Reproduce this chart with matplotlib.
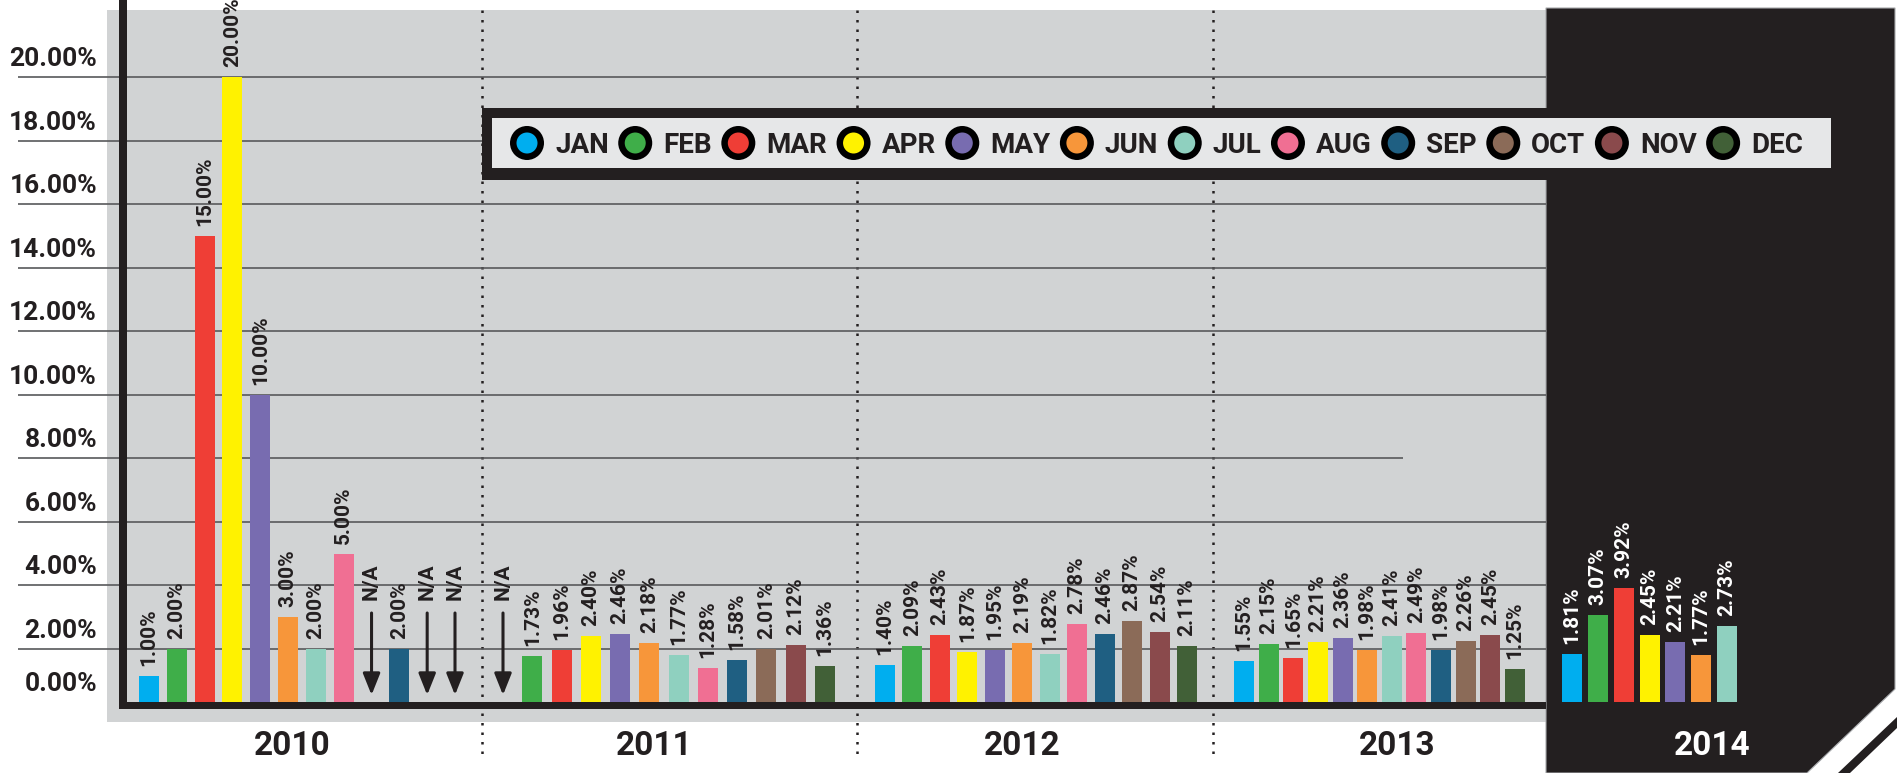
import numpy as np
import matplotlib.pyplot as plt
from matplotlib.patches import Rectangle, Polygon, Circle

plt.rcParams['font.family'] = ['Roboto', 'DejaVu Sans']

# ---- data ----
months = ['JAN', 'FEB', 'MAR', 'APR', 'MAY', 'JUN', 'JUL', 'AUG', 'SEP', 'OCT', 'NOV', 'DEC']
month_colors = ['#00aeef', '#3fae49', '#ef3e36', '#fff200', '#786cb0', '#f7963a',
                '#8fd0bf', '#f06f93', '#1f5f82', '#8b6b58', '#8a4a4c', '#416037']

years = ['2010', '2011', '2012', '2013', '2014']
v2010 = [1.00, 2.00, 15.00, 20.00, 10.00, 3.00, 2.00, 5.00, None, 2.00, None, None]
v2011 = [None, 1.73, 1.96, 2.40, 2.46, 2.18, 1.77, 1.28, 1.58, 2.01, 2.12, 1.36]
v2012 = [1.40, 2.09, 2.43, 1.87, 1.95, 2.19, 1.82, 2.78, 2.46, 2.87, 2.54, 2.11]
v2013 = [1.55, 2.15, 1.65, 2.21, 2.36, 1.98, 2.41, 2.49, 1.98, 2.26, 2.45, 1.25]
v2014 = [1.81, 3.07, 3.92, 2.45, 2.21, 1.77, 2.73]
values = [v2010, v2011, v2012, v2013, v2014]

# colour used for each 2010 slot (the lone 2.00% after the first N/A is SEP blue)
c2010 = [0, 1, 2, 3, 4, 5, 6, 7, 8, 8, 10, 11]

yticks = [0, 2, 4, 6, 8, 10, 12, 14, 16, 18, 20]

# ---- layout (pixels of the 1897x773 canvas) ----
W, H = 1897, 773
BASE = 702                     # baseline row
slot_first = [149, 503, 885, 1244, 1572]
slot_last = [455, 825, 1187, 1515, 1727]
year_x = [292, 654, 1022, 1397, 1712]
seps = [482, 857, 1213]
DARK = '#231f20'
GRAY = '#d1d3d4'

# the infographic's axis is squeezed below 2%
PPU = 31.78
K = 26.5 / PPU


def fwd(v):
    v = np.asarray(v, float)
    return np.where(v <= 2, v * K, v - 2 + 2 * K)


def inv(t):
    t = np.asarray(t, float)
    return np.where(t <= 2 * K, t / K, t + 2 - 2 * K)


fig = plt.figure(figsize=(W / 100, H / 100), dpi=100)
fig.patch.set_facecolor('white')


def pixel_axes(z):
    a = fig.add_axes([0, 0, 1, 1], zorder=z)
    a.set_xlim(0, W)
    a.set_ylim(H, 0)
    a.set_axis_off()
    return a


bg = pixel_axes(0)
ax = fig.add_axes([0, 0, 1, 1], zorder=1)
ax.set_axis_off()
ax.set_xlim(0, W)
ax.set_yscale('function', functions=(fwd, inv))
ax.set_ylim(float(inv(-(H - BASE) / PPU)), float(inv(BASE / PPU)))
top = pixel_axes(2)

# background panels
bg.add_patch(Rectangle((107, 10), 1546 - 107, 722 - 10, fc=GRAY, ec='none'))
bg.add_patch(Polygon([(1546, 8), (1895, 8), (1895, 689), (1807, 773), (1546, 773)],
                     closed=True, fc=DARK, ec='#a7a9ac', lw=0.8))
bg.add_patch(Polygon([(1838, 773), (1850, 773), (1897, 728), (1897, 717)],
                     closed=True, fc=DARK, ec='none'))
for sx in seps:
    bg.plot([sx, sx], [10, 755], color=DARK, lw=1.8, linestyle=(0, (1, 2.8)))
for yx, yr in zip(year_x, years):
    bg.text(yx, 755, yr, ha='center', va='baseline', fontsize=24, fontweight='bold',
            color='white' if yr == '2014' else DARK)

# gridlines and tick labels
for t in yticks:
    if t > 0:
        ax.hlines(t, 18, 1403 if t == 8 else 1546, color='#58595b', lw=1.2, zorder=1)
    ax.annotate(f'{t:.2f}%', xy=(97, t), xytext=(0, 11), textcoords='offset pixels',
                ha='right', va='baseline', fontsize=19, fontweight='bold', color=DARK,
                annotation_clip=False)

# bars, value labels, N/A markers
for yi, vals in enumerate(values):
    xs = np.linspace(slot_first[yi], slot_last[yi], len(vals))
    lab_col = 'white' if years[yi] == '2014' else DARK
    for i, (x, v) in enumerate(zip(xs, vals)):
        if v is None:
            top.annotate('', xy=(x, 695), xytext=(x, 613),
                         arrowprops=dict(arrowstyle='-|>,head_length=0.5,head_width=0.2',
                                         color=DARK, lw=2.2, mutation_scale=26,
                                         shrinkA=0, shrinkB=0))
            top.text(x, 600, 'N/A', rotation=90, ha='center', va='bottom',
                     fontsize=15, fontweight='bold', color=DARK)
            continue
        ci = c2010[i] if yi == 0 else i
        ax.bar(x, v, width=20, color=month_colors[ci], lw=0, zorder=2)
        ax.annotate(f'{v:.2f}%', xy=(x, v), xytext=(0, 10), textcoords='offset pixels',
                    rotation=90, ha='center', va='bottom', fontsize=15,
                    fontweight='bold', color=lab_col)

# axis lines
top.add_patch(Rectangle((119, 0), 8, 709, fc=DARK, ec='none'))
top.add_patch(Rectangle((119, 702), 1546 - 119, 7, fc=DARK, ec='none'))

# legend box
top.add_patch(Rectangle((482, 108), 1841 - 482, 72, fc=DARK, ec='none'))
top.add_patch(Rectangle((492, 118), 1831 - 492, 50, fc='#e6e7e8', ec='none'))
texts = [top.text(0, 153, m, ha='left', va='baseline', fontsize=20,
                  fontweight='bold', color=DARK) for m in months]
r = fig.canvas.get_renderer()
widths = [t.get_window_extent(r).width for t in texts]
gap = (1803 - 527 - 12 * 28 - sum(widths)) / 11
cx = 527
for t, w, c in zip(texts, widths, month_colors):
    top.add_patch(Circle((cx, 143), 17, fc='black', ec='none'))
    top.add_patch(Circle((cx, 143), 10.5, fc=c, ec='none'))
    t.set_x(cx + 28)
    cx += 28 + w + gap

fig.savefig('out.png', dpi=100)
